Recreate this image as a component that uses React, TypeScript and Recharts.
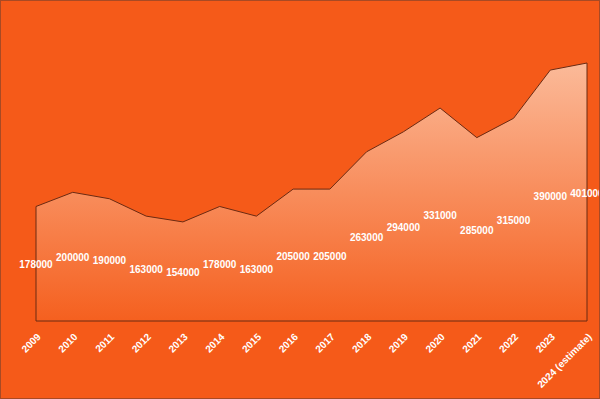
import React from 'react';
import { AreaChart, Area, XAxis, YAxis, LabelList, ReferenceLine } from 'recharts';

const years = ['2009','2010','2011','2012','2013','2014','2015','2016','2017','2018','2019','2020','2021','2022','2023','2024 (estimate)'];
const students = [178000,200000,190000,163000,154000,178000,163000,205000,205000,263000,294000,331000,285000,315000,390000,401000];

const data = years.map((year, i) => ({ year, value: students[i] }));

const W = 600;
const H = 399;
const M = { top: 63, right: 13, bottom: 0, left: 36 };
const XH = 77;
const BASE_Y = H - M.bottom - XH;

const Tick = (props: any) => {
  const { x, y, payload } = props;
  return (
    <g transform={`translate(${x + 3},${y + 6})`}>
      <text transform="rotate(-45)" textAnchor="end" dy="0.35em" fill="#ffffff" fontSize={10} fontWeight="bold" fontFamily="Arial, Liberation Sans, sans-serif">
        {payload.value}
      </text>
    </g>
  );
};

const MidLabel = (props: any) => {
  const { x, y, value } = props;
  const my = (y + BASE_Y) / 2;
  return (
    <text x={x} y={my} textAnchor="middle" dominantBaseline="central" fill="#ffffff" fontSize={10} fontWeight="bold" fontFamily="Arial, Liberation Sans, sans-serif">
      {value}
    </text>
  );
};

export default function App() {
  const first = data[0];
  const last = data[data.length - 1];
  return (
    <div style={{ position: 'absolute', left: 0, top: 0, width: W, height: H, background: '#F55A19', boxSizing: 'border-box', border: '1px solid #a84a24' }}>
      <AreaChart width={W - 2} height={H - 2} data={data} margin={{ top: M.top - 1, right: M.right - 1, bottom: M.bottom, left: M.left - 1 }} style={{ position: 'absolute', left: 0, top: 0 }}>
        <defs>
          <linearGradient id="fillGrad" x1="0" y1="0" x2="0" y2="1">
            <stop offset="0%" stopColor="#FBBA99" />
            <stop offset="100%" stopColor="#F5601F" />
          </linearGradient>
        </defs>
        <XAxis dataKey="year" height={XH} interval={0} tick={<Tick />} tickLine={false} axisLine={{ stroke: '#6b2a12', strokeWidth: 1 }} />
        <YAxis hide domain={[0, 'dataMax']} />
        <Area type="linear" dataKey="value" stroke="#6b2a12" strokeWidth={1} fill="url(#fillGrad)" fillOpacity={1} isAnimationActive={false} dot={false} activeDot={false}>
          <LabelList dataKey="value" content={<MidLabel />} />
        </Area>
        <ReferenceLine segment={[{ x: first.year, y: 0 }, { x: first.year, y: first.value }]} stroke="#6b2a12" strokeWidth={1} />
        <ReferenceLine segment={[{ x: last.year, y: 0 }, { x: last.year, y: last.value }]} stroke="#6b2a12" strokeWidth={1} />
      </AreaChart>
    </div>
  );
}
